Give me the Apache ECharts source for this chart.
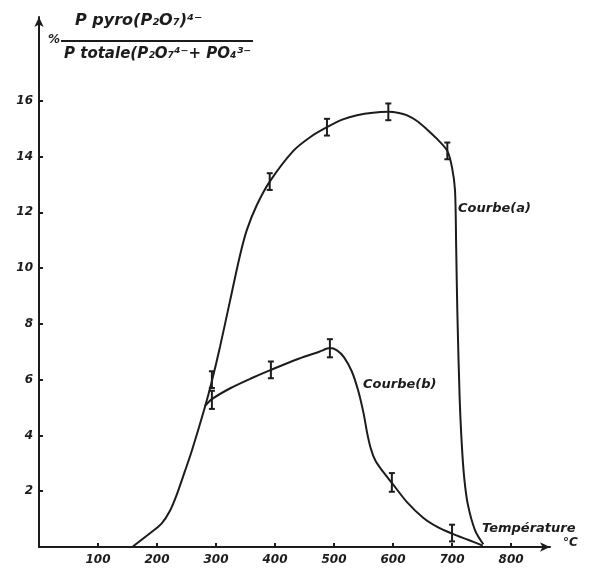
<!DOCTYPE html>
<html>
<head>
<meta charset="utf-8">
<script src="https://cdn.jsdelivr.net/npm/echarts@6/dist/echarts.min.js"></script>
<style>
  html, body { margin: 0; padding: 0; background: #fff; }
  #chart { width: 589px; height: 569px; }
</style>
</head>
<body>
<div id="chart"></div>
<script>
// courbe (a) : [température °C, %]
const courbeA = [
  [158, 0], [188, 0.49], [208, 0.85], [222, 1.3], [233, 1.85], [247, 2.7],
  [259, 3.45], [281, 5.0], [293, 5.95], [307, 7.2], [324, 8.85], [340, 10.4],
  [352, 11.35], [369, 12.25], [391, 13.1], [431, 14.2], [460, 14.7], [488, 15.05],
  [515, 15.33], [539, 15.48], [566, 15.57], [592, 15.6], [610, 15.56], [623, 15.48],
  [640, 15.28], [657, 14.98], [675, 14.62], [692, 14.2], [700, 13.6], [705, 12.8],
  [707, 10.75], [709, 8.4], [713, 5.27], [717, 3.5], [721, 2.4], [727, 1.5],
  [739, 0.6], [753, 0.1]
];
// courbe (b)
const courbeB = [
  [281, 5.05], [293, 5.3], [325, 5.7], [360, 6.05], [393, 6.35], [440, 6.75],
  [475, 7.0], [493, 7.13], [505, 7.05], [517, 6.8], [530, 6.3], [541, 5.6],
  [550, 4.8], [556, 4.1], [562, 3.55], [570, 3.1], [583, 2.7], [598, 2.3],
  [624, 1.6], [651, 1.05], [675, 0.72], [700, 0.48], [728, 0.25], [752, 0.05]
];
// barres d'erreur : [T, bas, haut]
const erreursA = [[293, 5.7, 6.3], [391, 12.8, 13.4], [488, 14.75, 15.35], [592, 15.3, 15.9], [692, 13.9, 14.5]];
const erreursB = [[293, 4.95, 5.6], [393, 6.05, 6.65], [493, 6.8, 7.45], [598, 1.98, 2.65], [700, 0.2, 0.8]];

const xTicks = [100, 200, 300, 400, 500, 600, 700, 800];
const yTicks = [2, 4, 6, 8, 10, 12, 14, 16];

const ink = '#1c1c1c';
const font = 'DejaVu Sans';

function errorBar(params, api) {
  const top = api.coord([api.value(0), api.value(2)]);
  const bot = api.coord([api.value(0), api.value(1)]);
  const w = 3;
  const style = { stroke: ink, lineWidth: 2 };
  return {
    type: 'group',
    children: [
      { type: 'line', shape: { x1: top[0], y1: top[1], x2: bot[0], y2: bot[1] }, style },
      { type: 'line', shape: { x1: top[0] - w, y1: top[1], x2: top[0] + w, y2: top[1] }, style },
      { type: 'line', shape: { x1: bot[0] - w, y1: bot[1], x2: bot[0] + w, y2: bot[1] }, style }
    ]
  };
}

const chart = echarts.init(document.getElementById('chart'));
chart.setOption({
  animation: false,
  backgroundColor: '#fff',
  grid: { left: 39, right: 39, top: 17, bottom: 22 },
  xAxis: {
    type: 'value',
    min: 0,
    max: 866,
    interval: 100,
    splitLine: { show: false },
    axisLine: { lineStyle: { color: ink, width: 2 }, symbol: ['none', 'arrow'], symbolSize: [7, 10] },
    axisTick: { inside: true, length: 4, lineStyle: { color: ink, width: 2 }, customValues: xTicks },
    axisLabel: {
      customValues: xTicks,
      margin: 7,
      color: ink,
      fontFamily: font,
      fontStyle: 'italic',
      fontWeight: 'bold',
      fontSize: 12
    }
  },
  yAxis: {
    type: 'value',
    min: 0,
    max: 19,
    interval: 2,
    splitLine: { show: false },
    axisLine: { lineStyle: { color: ink, width: 2 }, symbol: ['none', 'arrow'], symbolSize: [7, 10] },
    axisTick: { inside: true, length: 4, lineStyle: { color: ink, width: 2 }, customValues: yTicks },
    axisLabel: {
      customValues: yTicks,
      margin: 6,
      color: ink,
      fontFamily: font,
      fontStyle: 'italic',
      fontWeight: 'bold',
      fontSize: 12
    }
  },
  series: [
    {
      name: 'Courbe(a)',
      type: 'line',
      data: courbeA,
      smooth: 0.3,
      showSymbol: false,
      lineStyle: { color: ink, width: 2 }
    },
    {
      name: 'Courbe(b)',
      type: 'line',
      data: courbeB,
      smooth: 0.3,
      showSymbol: false,
      lineStyle: { color: ink, width: 2 }
    },
    { type: 'custom', data: erreursA, renderItem: errorBar, z: 3 },
    { type: 'custom', data: erreursB, renderItem: errorBar, z: 3 }
  ],
  graphic: [
    {
      type: 'text', left: 48, top: 34,
      style: { text: '%', fill: ink, font: 'italic bold 12px DejaVu Sans' }
    },
    {
      type: 'text', left: 75, top: 13,
      style: { text: 'P pyro(P₂O₇)⁴⁻', fill: ink, font: 'italic bold 16px DejaVu Sans' }
    },
    {
      type: 'line', shape: { x1: 61, y1: 41, x2: 253, y2: 41 },
      style: { stroke: ink, lineWidth: 2 }
    },
    {
      type: 'text', left: 64, top: 47,
      style: { text: 'P totale(P₂O₇⁴⁻+ PO₄³⁻', fill: ink, font: 'italic bold 15px DejaVu Sans' }
    },
    {
      type: 'text', left: 458, top: 202,
      style: { text: 'Courbe(a)', fill: ink, font: 'italic bold 13px DejaVu Sans' }
    },
    {
      type: 'text', left: 363, top: 378,
      style: { text: 'Courbe(b)', fill: ink, font: 'italic bold 13px DejaVu Sans' }
    },
    {
      type: 'text', left: 482, top: 522,
      style: { text: 'Température', fill: ink, font: 'italic bold 13px DejaVu Sans' }
    },
    {
      type: 'text', left: 563, top: 537,
      style: { text: '°C', fill: ink, font: 'italic bold 12px DejaVu Sans' }
    }
  ]
});
</script>
</body>
</html>
